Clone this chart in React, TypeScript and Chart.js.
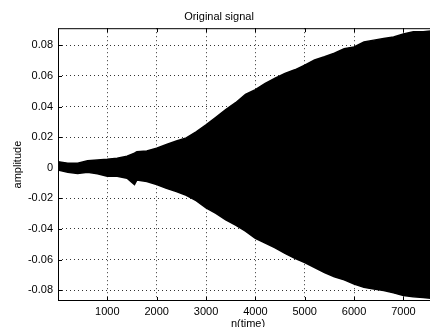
import React, { useEffect, useRef } from "react";
import { Chart, registerables } from "chart.js";

Chart.register(...registerables);

// sample index (time) at which the envelope was read
const sampleN = [0, 200, 400, 600, 800, 1000, 1200, 1400, 1550, 1600, 1800, 2000, 2200, 2400, 2600, 2800, 3000, 3200, 3400, 3600, 3800, 4000, 4200, 4400, 4600, 4800, 5000, 5200, 5400, 5600, 5800, 6000, 6200, 6400, 6600, 6800, 7000, 7200, 7400, 7600, 7700];
// upper envelope of the signal (amplitude)
const upperEnv = [0.004, 0.003, 0.003, 0.0045, 0.005, 0.0055, 0.0062, 0.0075, 0.0095, 0.0105, 0.011, 0.0127, 0.0152, 0.0175, 0.0195, 0.0235, 0.028, 0.033, 0.038, 0.0425, 0.048, 0.051, 0.0552, 0.0585, 0.0617, 0.064, 0.067, 0.0704, 0.0725, 0.0748, 0.0778, 0.079, 0.0822, 0.0834, 0.0845, 0.0855, 0.0875, 0.0888, 0.0889, 0.0895, 0.0905];
// lower envelope of the signal (amplitude)
const lowerEnv = [-0.0015, -0.003, -0.0037, -0.003, -0.004, -0.0055, -0.0055, -0.0068, -0.011, -0.008, -0.009, -0.011, -0.0135, -0.0155, -0.018, -0.0215, -0.0262, -0.0298, -0.034, -0.0375, -0.0415, -0.0462, -0.0492, -0.0523, -0.056, -0.0592, -0.062, -0.0652, -0.0685, -0.0712, -0.0733, -0.076, -0.0782, -0.0793, -0.0803, -0.0818, -0.0835, -0.0843, -0.0848, -0.0855, -0.086];

const xTicks = [1000, 2000, 3000, 4000, 5000, 6000, 7000];
const yTicks = [-0.08, -0.06, -0.04, -0.02, 0, 0.02, 0.04, 0.06, 0.08];
const xMin = 1;
const xMax = 7700;
const yMin = -0.0871;
const yMax = 0.0912;

const FONT = "'Liberation Sans', Arial, Helvetica, sans-serif";

const framePlugin = {
  id: "frame",
  afterDraw(chart: any) {
    const { ctx, chartArea } = chart;
    const { left, right, top, bottom } = chartArea;
    ctx.save();
    ctx.setLineDash([]);
    ctx.strokeStyle = "#000";
    ctx.lineWidth = 1;
    ctx.beginPath();
    ctx.moveTo(left + 0.5, top + 0.5);
    ctx.lineTo(right, top + 0.5);
    ctx.moveTo(left + 0.5, top);
    ctx.lineTo(left + 0.5, bottom);
    ctx.moveTo(left, bottom - 0.5);
    ctx.lineTo(right, bottom - 0.5);
    const xs = chart.scales.x;
    const ys = chart.scales.y;
    xs.ticks.forEach((t: any) => {
      const px = Math.round(xs.getPixelForValue(t.value)) + 0.5;
      ctx.moveTo(px, top);
      ctx.lineTo(px, top + 4);
      ctx.moveTo(px, bottom);
      ctx.lineTo(px, bottom - 4);
    });
    ys.ticks.forEach((t: any) => {
      const py = Math.round(ys.getPixelForValue(t.value)) + 0.5;
      ctx.moveTo(left, py);
      ctx.lineTo(left + 4, py);
    });
    ctx.stroke();
    ctx.restore();
  },
};

export default function App() {
  const ref = useRef<HTMLCanvasElement>(null);

  useEffect(() => {
    if (!ref.current) return;
    Chart.defaults.color = "#000";
    const upperPts = sampleN.map((n, i) => ({ x: n, y: upperEnv[i] }));
    const lowerPts = sampleN.map((n, i) => ({ x: n, y: lowerEnv[i] }));
    const chart = new Chart(ref.current, {
      type: "line",
      data: {
        datasets: [
          {
            data: upperPts,
            borderColor: "#000",
            backgroundColor: "#000",
            borderWidth: 1.5,
            pointRadius: 0,
            fill: "+1",
            tension: 0,
          },
          {
            data: lowerPts,
            borderColor: "#000",
            backgroundColor: "#000",
            borderWidth: 1.5,
            pointRadius: 0,
            fill: false,
            tension: 0,
          },
        ],
      },
      options: {
        animation: false,
        responsive: false,
        devicePixelRatio: 1,
        layout: { padding: { top: 0, left: 0, right: 2, bottom: 0 } },
        plugins: {
          legend: { display: false },
          tooltip: { enabled: false },
          title: {
            display: true,
            text: "Original signal",
            color: "#000",
            font: { family: FONT, size: 11, weight: "normal" },
            padding: { top: 10, bottom: 5 },
          },
        },
        scales: {
          x: {
            type: "linear",
            min: xMin,
            max: xMax,
            border: { display: false, dash: [1, 3] },
            grid: { color: "#333", lineWidth: 1, drawTicks: false },
            afterBuildTicks: (s: any) => {
              s.ticks = xTicks.map((v) => ({ value: v }));
            },
            ticks: {
              padding: 4,
              maxRotation: 0,
              autoSkip: false,
              color: "#000",
              font: { family: FONT, size: 11 },
              callback: (v: any) => String(Math.round(Number(v))),
            },
            title: {
              display: true,
              text: "n(time)",
              color: "#000",
              font: { family: FONT, size: 11, lineHeight: 0.5 },
              padding: { top: 0, bottom: 0 },
            },
            afterFit: (s: any) => {
              s.height = 26;
            },
          },
          y: {
            type: "linear",
            min: yMin,
            max: yMax,
            border: { display: false, dash: [1, 3] },
            grid: { color: "#333", lineWidth: 1, drawTicks: false },
            afterBuildTicks: (s: any) => {
              s.ticks = yTicks.map((v) => ({ value: v }));
            },
            ticks: {
              padding: 5,
              autoSkip: false,
              color: "#000",
              font: { family: FONT, size: 11 },
              callback: (v: any) => {
                const n = Number(v);
                return Math.abs(n) < 1e-9 ? "0" : n.toFixed(2);
              },
            },
            title: {
              display: true,
              text: "amplitude",
              color: "#000",
              font: { family: FONT, size: 11 },
              padding: { top: 11.4, bottom: 0 },
            },
            afterFit: (s: any) => {
              s.width = 58;
            },
          },
        },
      },
      plugins: [framePlugin],
    });
    return () => chart.destroy();
  }, []);

  return (
    <div style={{ position: "absolute", left: 0, top: 0, width: 430, height: 327, overflow: "hidden", background: "#fff" }}>
      <canvas ref={ref} width={440} height={327} style={{ display: "block" }} />
    </div>
  );
}
